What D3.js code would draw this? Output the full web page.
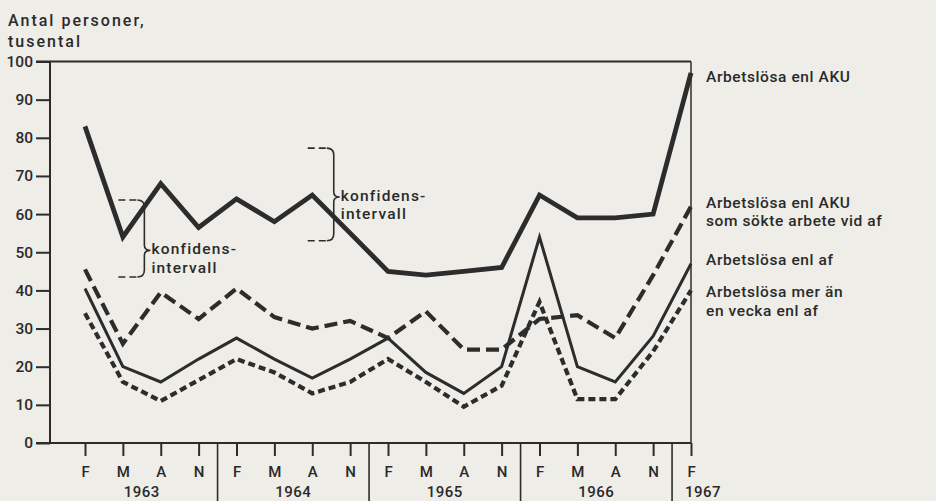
<!DOCTYPE html>
<html><head><meta charset="utf-8">
<script src="https://cdn.jsdelivr.net/npm/d3@7"></script>
<style>
html,body{margin:0;padding:0;background:#eeede8;}
svg{display:block;}
text{font-family:Roboto,"DejaVu Sans",sans-serif;font-weight:500;fill:#2a2a2a;}
</style></head><body>
<svg id="c" width="936" height="501"></svg>
<script>
// ---- data ----
const months = ["F","M","A","N","F","M","A","N","F","M","A","N","F","M","A","N","F"];
const years = ["1963","1964","1965","1966","1967"];
const aku   = [83, 54, 68, 56.5, 64, 58, 65, 55, 45, 44, 45, 46, 65, 59, 59, 60, 97];
const akuAf = [45.5, 26, 39.5, 32.5, 40.5, 33, 30, 32, 27.5, 34.5, 24.5, 24.5, 32.5, 33.5, 27.5, 44, 62];
const af    = [40.5, 20, 16, 22, 27.5, 22, 17, 22, 27.5, 18.5, 13, 20, 54, 20, 16, 28, 47];
const mer   = [34, 16, 11, 16.5, 22, 18.5, 13, 16, 22, 16, 9.5, 15, 37, 11.5, 11.5, 24, 40];
const yTicks = [0,10,20,30,40,50,60,70,80,90,100];
const yTitle = ["Antal personer,", "tusental"];
const legendLabels = [
  ["Arbetslösa enl AKU"],
  ["Arbetslösa enl AKU", "som sökte arbete vid af"],
  ["Arbetslösa enl af"],
  ["Arbetslösa mer än", "en vecka enl af"]
];
const legendValues = [96, 63, 48, 39.5];   // vertical anchor of each label (data units)
const ciIndex = [1, 6];
const ciLow   = [43.5, 53];
const ciHigh  = [63.7, 77.3];
const ciLabelAt = [50.5, 64.5];
const ciText = ["konfidens-", "intervall"];

// ---- drawing ----
const ink = "#2c2c2c";
const svg = d3.select("#c");
const x = d3.scaleLinear().domain([0, 16]).range([85, 691]);
const y = d3.scaleLinear().domain([0, 100]).range([443, 61.5]);

// frame
const g = svg.append("g");
g.append("line").attr("x1", 36).attr("x2", x(16)).attr("y1", y(100)).attr("y2", y(100))
  .attr("stroke", ink).attr("stroke-width", 2);
g.append("line").attr("x1", x(16)).attr("x2", x(16)).attr("y1", y(100)).attr("y2", y(0))
  .attr("stroke", ink).attr("stroke-width", 1.5);
g.append("line").attr("x1", 36).attr("x2", x(16)).attr("y1", y(0)).attr("y2", y(0))
  .attr("stroke", ink).attr("stroke-width", 2);

// y axis
const yAxis = d3.axisLeft(y).tickValues(yTicks).tickSize(14).tickPadding(3);
const ya = svg.append("g").attr("transform", "translate(50,0)").call(yAxis);
ya.attr("font-family", null).attr("font-size", null);
ya.select(".domain").attr("stroke", ink).attr("stroke-width", 2).attr("d", `M0,${y(0)}V${y(100)}`);
ya.selectAll(".tick line").attr("stroke", ink).attr("stroke-width", 2);
ya.selectAll(".tick text").attr("font-size", 15.5).attr("fill", "#2a2a2a");

// x axis
const xAxis = d3.axisBottom(x).tickValues(d3.range(months.length)).tickFormat(i => months[i]).tickSize(13).tickPadding(10);
const xa = svg.append("g").attr("transform", `translate(0,${y(0)})`).call(xAxis);
xa.attr("font-family", null).attr("font-size", null);
xa.select(".domain").remove();
xa.selectAll(".tick line").attr("stroke", ink).attr("stroke-width", 2);
xa.selectAll(".tick text").attr("font-size", 15).attr("fill", "#2a2a2a");

// year separators and labels
years.forEach((yr, i) => {
  if (i < years.length - 1) {
    svg.append("line").attr("x1", x(i*4+3.5)).attr("x2", x(i*4+3.5)).attr("y1", y(0)).attr("y2", 501)
      .attr("stroke", ink).attr("stroke-width", 1.6);
    svg.append("text").attr("x", x(i*4+1.5)).attr("y", 496.5).attr("text-anchor", "middle")
      .attr("font-size", 15).attr("letter-spacing", 0.5).text(yr);
  } else {
    svg.append("text").attr("x", x(i*4) - 6).attr("y", 496.5).attr("text-anchor", "start")
      .attr("font-size", 15).attr("letter-spacing", 0.5).text(yr);
  }
});

// title
svg.append("g").selectAll("text").data(yTitle).join("text")
  .attr("x", 8).attr("y", (d, i) => 26 + i*21).attr("font-size", 16).attr("letter-spacing", 2).text(d => d);

// series
const line = d3.line().x((d, i) => x(i)).y(d => y(d));
const series = [
  {data: aku,   w: 4.8, dash: null},
  {data: akuAf, w: 4.2, dash: "13,6"},
  {data: af,    w: 3,   dash: null},
  {data: mer,   w: 4.2, dash: "7,4"}
];
svg.append("g").selectAll("path").data(series).join("path")
  .attr("d", s => line(s.data)).attr("fill", "none").attr("stroke", ink)
  .attr("stroke-width", s => s.w).attr("stroke-dasharray", s => s.dash)
  .attr("stroke-linejoin", "miter").attr("stroke-miterlimit", 6);

// legend labels
legendLabels.forEach((lines, k) => {
  svg.append("g").selectAll("text").data(lines).join("text")
    .attr("x", 706).attr("y", (d, i) => y(legendValues[k]) + 5 + i*18.5)
    .attr("font-size", 15.5).attr("letter-spacing", 0.6).text(d => d);
});

// confidence interval braces
ciIndex.forEach((idx, k) => {
  const xb = x(idx) + 21.5, yt = y(ciHigh[k]), yb = y(ciLow[k]), ym = y(ciLabelAt[k]);
  const gb = svg.append("g").attr("stroke", ink).attr("fill", "none").attr("stroke-width", 1.6);
  [yt, yb].forEach(yy => {
    gb.append("line").attr("x1", x(idx) - 4.5).attr("x2", xb - 7).attr("y1", yy).attr("y2", yy)
      .attr("stroke-dasharray", "7,4");
  });
  gb.append("path").attr("d",
    `M${xb-7},${yt} Q${xb},${yt} ${xb},${yt+7} L${xb},${ym-5} Q${xb},${ym} ${xb+6},${ym} ` +
    `M${xb+6},${ym} Q${xb},${ym} ${xb},${ym+5} L${xb},${yb-7} Q${xb},${yb} ${xb-7},${yb}`);
  svg.append("g").selectAll("text").data(ciText).join("text")
    .attr("x", xb + 7).attr("y", (d, i) => ym + 4 + i*18.5)
    .attr("font-size", 15.5).attr("letter-spacing", 1.2).text(d => d);
});
</script>
</body></html>
